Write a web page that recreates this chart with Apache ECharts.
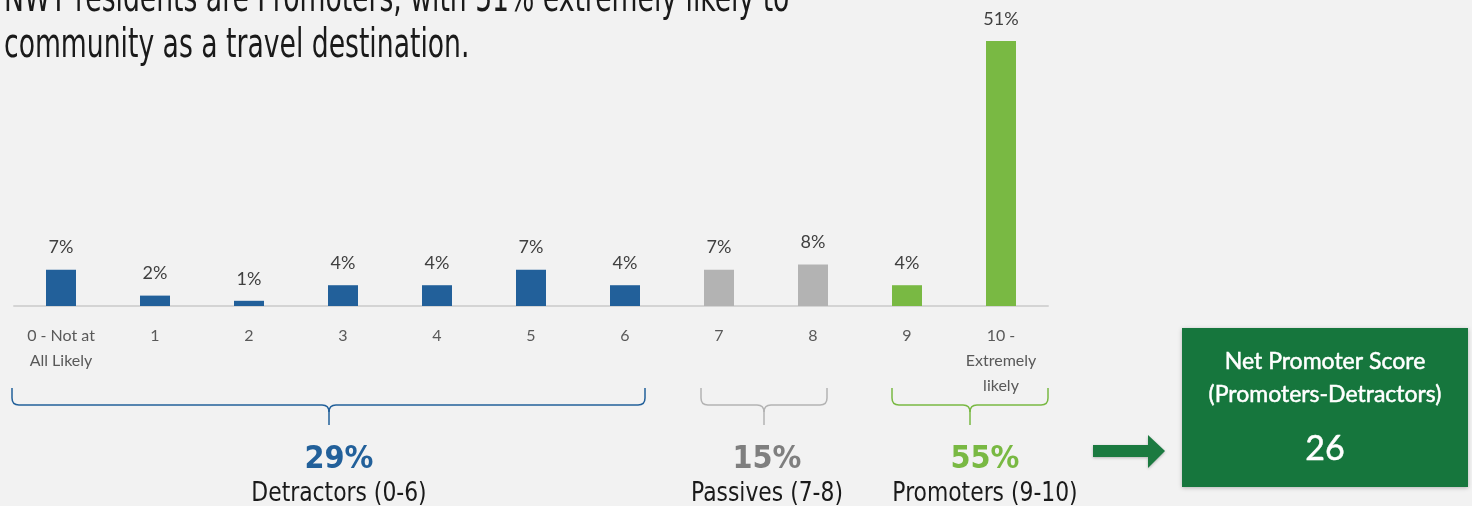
<!DOCTYPE html>
<html>
<head>
<meta charset="utf-8">
<script src="https://cdn.jsdelivr.net/npm/echarts@6/dist/echarts.min.js"></script>
<style>
  html, body { margin: 0; padding: 0; background: #f2f2f2; }
  #chart { width: 1472px; height: 506px; }
</style>
</head>
<body>
<div id="chart"></div>
<script>
// Likelihood-to-recommend scale, 0 to 10
const categories = ['0 - Not at\nAll Likely', '1', '2', '3', '4', '5', '6', '7', '8', '9', '10 -\nExtremely\nlikely'];
// Share of respondents at each score (%)
const shares = [7, 2, 1, 4, 4, 7, 4, 7, 8, 4, 51];
// Score groups: first and last category index of each
const groupNames = ['Detractors (0-6)', 'Passives (7-8)', 'Promoters (9-10)'];
const groupFirst = [0, 7, 9];
const groupLast = [6, 8, 10];
const groupColors = ['#22609a', '#b3b3b3', '#79b943'];
const groupTextColors = ['#22609a', '#7f7f7f', '#79b943'];

const titleLines = ['NWT residents are Promoters, with 51% extremely likely to', 'community as a travel destination.'];
const npsTitle = ['Net Promoter Score', '(Promoters-Detractors)'];

const condensed = '"DejaVu Sans Condensed", "Liberation Sans Narrow", sans-serif';
const body = 'Lato, "Noto Sans", sans-serif';

function groupOf(i) {
  for (let g = 0; g < groupFirst.length; g++) {
    if (i >= groupFirst[g] && i <= groupLast[g]) return g;
  }
  return 0;
}
const groupTotals = groupFirst.map((f, g) =>
  shares.slice(f, groupLast[g] + 1).reduce((a, b) => a + b, 0));
const nps = groupTotals[2] - groupTotals[0];

const chart = echarts.init(document.getElementById('chart'));
chart.setOption({
  backgroundColor: '#f2f2f2',
  animation: false,
  grid: { left: 14, right: 424, top: 41, bottom: 200 },
  xAxis: {
    type: 'category',
    data: categories,
    axisLine: { lineStyle: { color: '#d4d4d4', width: 2 } },
    axisTick: { show: false },
    axisLabel: {
      interval: 0, margin: 17, color: '#595959',
      fontFamily: body, fontSize: 16, lineHeight: 25
    }
  },
  yAxis: {
    type: 'value', min: 0, max: 51, show: false, splitLine: { show: false }
  },
  series: [{
    type: 'bar',
    barWidth: 30,
    data: shares.map((v, i) => ({ value: v, itemStyle: { color: groupColors[groupOf(i)] } })),
    label: {
      show: true, position: 'top', distance: 13,
      formatter: p => p.value + '%',
      color: '#404040', fontFamily: body, fontSize: 18
    }
  }]
});

// Annotation layer: title, group braces, totals and the NPS box
const cx = i => chart.convertToPixel({ xAxisIndex: 0 }, i);
const braceSpan = [[-49, 20], [-18, 14], [-15, 47]];
const labelShift = [10, 3, 15];
const graphics = [];

// Tall, narrow headline lettering
titleLines.forEach((t, k) => {
  graphics.push({
    type: 'text', x: 4, y: 1 + k * 46, scaleX: 0.74,
    style: { text: t, font: '40px ' + condensed, fill: '#1a1a1a', textVerticalAlign: 'middle' }
  });
});

const yLine = 405, yEnd = 388, yTip = 425, r = 7;
const seg = (x1, y1, x2, y2, color) => ({
  type: 'line', shape: { x1, y1, x2, y2 }, style: { stroke: color, lineWidth: 1.5 }
});
const curve = (x1, y1, cx1, cy1, x2, y2, color) => ({
  type: 'bezierCurve', shape: { x1, y1, cpx1: cx1, cpy1: cy1, x2, y2 },
  style: { stroke: color, lineWidth: 1.5, fill: null }
});
groupFirst.forEach((f, g) => {
  const c = groupColors[g];
  const x0 = Math.round(cx(f) + braceSpan[g][0]);
  const x1 = Math.round(cx(groupLast[g]) + braceSpan[g][1]);
  const xc = Math.round((x0 + x1) / 2);
  graphics.push(
    seg(x0, yEnd, x0, yLine - r, c),
    curve(x0, yLine - r, x0, yLine, x0 + r, yLine, c),
    seg(x0 + r, yLine, xc - r, yLine, c),
    curve(xc - r, yLine, xc, yLine, xc, yLine + r, c),
    curve(xc + r, yLine, xc, yLine, xc, yLine + r, c),
    seg(xc, yLine + r, xc, yTip, c),
    seg(xc + r, yLine, x1 - r, yLine, c),
    curve(x1 - r, yLine, x1, yLine, x1, yLine - r, c),
    seg(x1, yLine - r, x1, yEnd, c)
  );
  const tx = xc + labelShift[g];
  graphics.push({
    type: 'text', x: tx, y: 460,
    style: { text: groupTotals[g] + '%', font: 'bold 32px ' + condensed, fill: groupTextColors[g],
             textAlign: 'center', textVerticalAlign: 'middle' }
  });
  graphics.push({
    type: 'text', x: tx, y: 494, scaleX: 0.9,
    style: { text: groupNames[g], font: '27px ' + condensed, fill: '#1a1a1a',
             textAlign: 'center', textVerticalAlign: 'middle' }
  });
});

// Arrow pointing into the score box
graphics.push({
  type: 'polygon',
  shape: { points: [[1093, 445], [1148, 445], [1148, 435], [1165, 451], [1148, 468], [1148, 457], [1093, 457]] },
  style: { fill: '#1b7a40', shadowBlur: 3, shadowColor: 'rgba(0,0,0,0.25)', shadowOffsetY: 1 }
});
graphics.push({
  type: 'rect', shape: { x: 1182, y: 328, width: 286, height: 159 },
  style: { fill: '#16763d', shadowBlur: 4, shadowColor: 'rgba(0,0,0,0.25)', shadowOffsetY: 1 }
});
npsTitle.forEach((t, k) => {
  graphics.push({
    type: 'text', x: 1325, y: 362 + k * 33,
    style: { text: t, font: '23px ' + body, fill: '#ffffff', textAlign: 'center', textVerticalAlign: 'middle',
             stroke: '#ffffff', lineWidth: 0.5 }
  });
});
graphics.push({
  type: 'text', x: 1325, y: 449,
  style: { text: String(nps), font: '34px ' + body, fill: '#ffffff', textAlign: 'center', textVerticalAlign: 'middle',
           stroke: '#ffffff', lineWidth: 0.5 }
});

chart.setOption({ graphic: graphics });
</script>
</body>
</html>
